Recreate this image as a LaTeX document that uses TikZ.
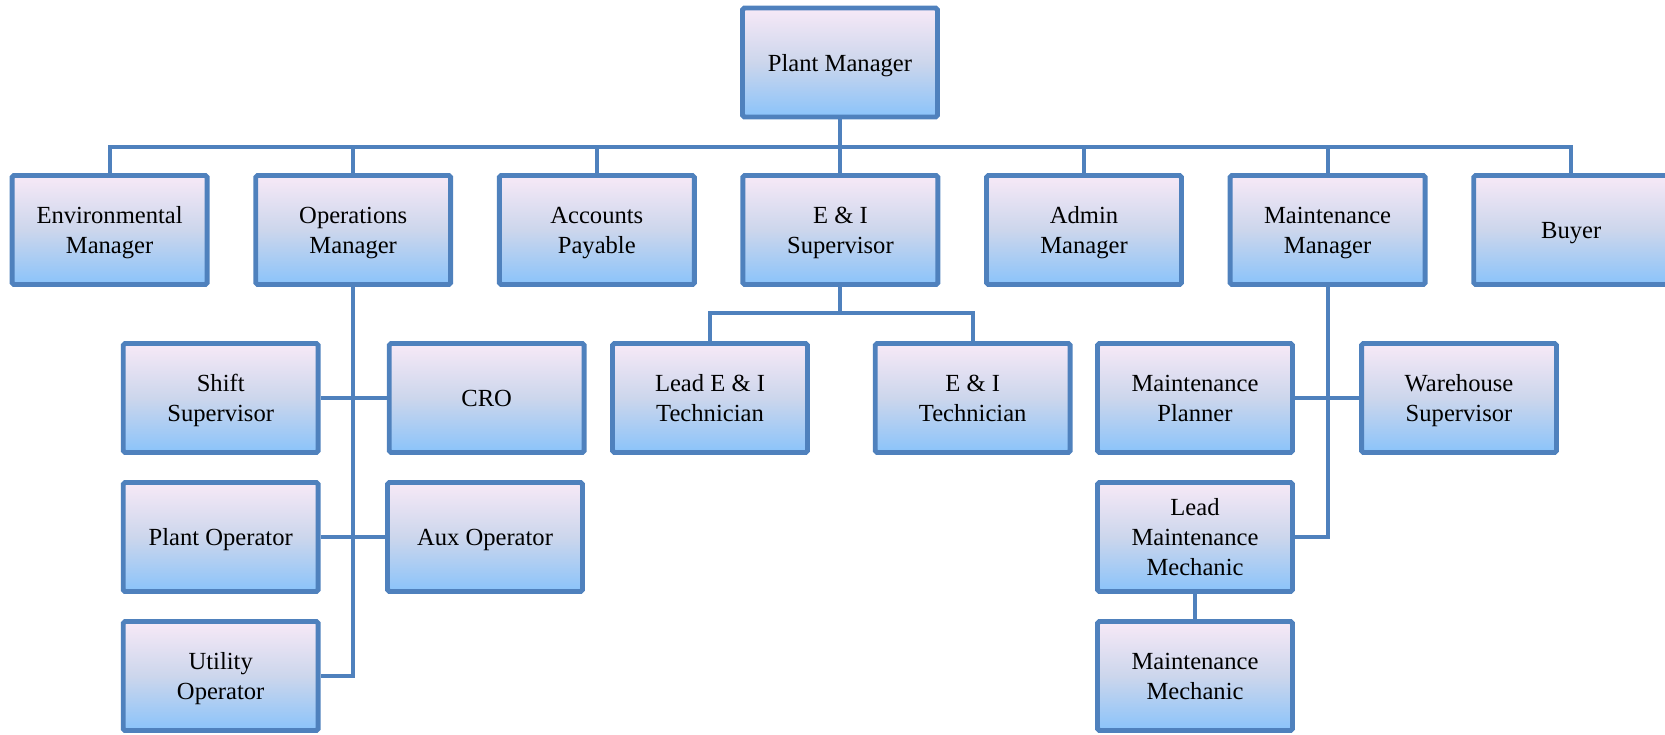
\documentclass[tikz,border=0pt]{standalone}
\usepackage{fontspec}
\setmainfont{Liberation Serif}
\definecolor{edgeblue}{RGB}{79,129,189}
\definecolor{topfill}{RGB}{247,233,247}
\definecolor{midfill}{RGB}{204,214,236}
\definecolor{botfill}{RGB}{138,195,250}

\begin{document}
\begin{tikzpicture}[
    x=0.02cm, y=-0.02cm,
    post/.style={draw=edgeblue, line width=2.8pt, rounded corners=1pt, minimum width=3.9cm, minimum height=2.18cm, inner sep=0pt, align=center, text depth=0pt, top color=topfill, bottom color=botfill, middle color=midfill, font=\fontsize{14}{17}\selectfont},
    lnk/.style={draw=edgeblue, line width=2.3pt}
]
\useasboundingbox (0,0) rectangle (1665,734);

\node[post] (pm) at (840,62.5) {Plant Manager};

\node[post] (env) at (109.6,230) {Environmental\\Manager};
\node[post] (ops) at (353.2,230) {Operations\\Manager};
\node[post] (acct) at (596.8,230) {Accounts\\Payable};
\node[post] (eis) at (840.4,230) {E \& I\\Supervisor};
\node[post] (admin) at (1084,230) {Admin\\Manager};
\node[post] (mm) at (1327.6,230) {Maintenance\\Manager};
\node[post] (buyer) at (1571.2,230) {Buyer};

\node[post] (shift) at (220.7,398) {Shift\\Supervisor};
\node[post] (cro) at (486.7,398) {CRO};
\node[post] (plantop) at (220.7,537) {Plant Operator};
\node[post] (aux) at (485,537) {Aux Operator};
\node[post] (util) at (220.7,676) {Utility\\Operator};

\node[post] (leadei) at (710,398) {Lead E \& I\\Technician};
\node[post] (eit) at (972.7,398) {E \& I\\Technician};

\node[post] (mplan) at (1195,398) {Maintenance\\Planner};
\node[post] (wh) at (1459,398) {Warehouse\\Supervisor};
\node[post] (leadmm) at (1195,537) {Lead\\Maintenance\\Mechanic};
\node[post] (mmech) at (1195,676) {Maintenance\\Mechanic};

% top level
\foreach \n in {env,ops,acct,eis,admin,mm,buyer}
    \draw[lnk] (pm.south) -- ++(0,28) -| (\n.north);

% operations
\draw[lnk] (ops.south) |- (util.east);
\draw[lnk] (shift.east) -- (cro.west);
\draw[lnk] (plantop.east) -- (aux.west);

% E & I
\draw[lnk] (eis.south) -- ++(0,26) -| (leadei.north);
\draw[lnk] (eis.south) -- ++(0,26) -| (eit.north);

% maintenance
\draw[lnk] (mm.south) |- (leadmm.east);
\draw[lnk] (mplan.east) -- (wh.west);
\draw[lnk] (leadmm.south) -- (mmech.north);
\end{tikzpicture}
\end{document}
